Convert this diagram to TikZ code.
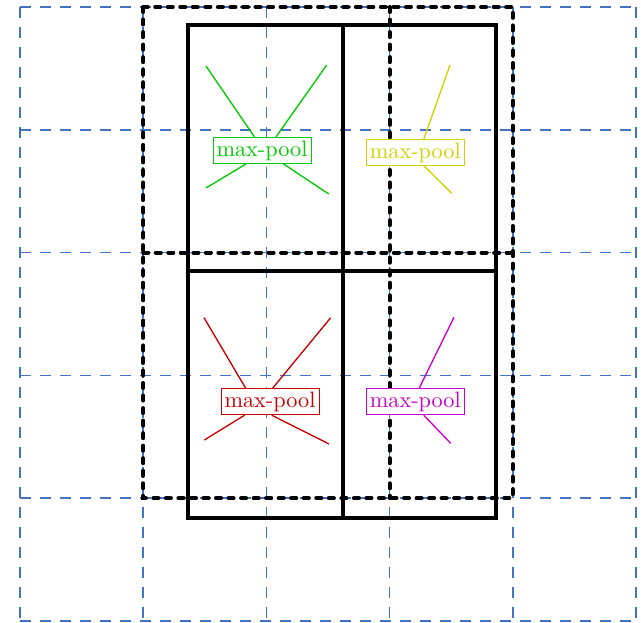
\documentclass[tikz,border=0pt]{standalone}
\tikzset{
  px/.style={x=0.75pt,y=-0.75pt},
  gridline/.style={draw={rgb,255:red,68;green,114;blue,196},line width=1.3pt,dash pattern=on 8.25pt off 6.75pt},
  winline/.style={draw=black,line width=3pt,line cap=round,dash pattern=on 3.8pt off 5.6pt},
  cellbox/.style={draw=black,line width=3pt},
  lbl/.style={draw,fill=white,line width=0.6pt,inner xsep=2.6pt,inner ysep=2.4pt,font=\fontsize{10}{12}\selectfont},
  conn/.style={line width=1pt}
}
\definecolor{colG}{RGB}{0,204,0}
\definecolor{colY}{RGB}{210,210,0}
\definecolor{colR}{RGB}{204,0,0}
\definecolor{colM}{RGB}{204,0,204}
\newcommand{\mptext}{\scalebox{1.67}{max-pool}}
\begin{document}
\begin{tikzpicture}[px]
\useasboundingbox (0,0) rectangle (641,623);
% blue grid
\foreach \x in {20,143.2,266.4,389.6,512.8,636} \draw[gridline] (\x,7) -- (\x,621);
\foreach \y in {7,129.8,252.6,375.4,498.2,621} \draw[gridline] (20,\y) -- (636,\y);
% solid cells
\draw[cellbox] (188,25) rectangle (496,518);
\draw[cellbox] (343,25) -- (343,518);
\draw[cellbox] (188,271) -- (496,271);
% dotted windows
\draw[winline] (143.2,7) rectangle (512.8,498.2);
\draw[winline] (389.6,7) -- (389.6,498.2);
\draw[winline] (143.2,252.6) -- (512.8,252.6);
% labels
\node[lbl,draw=colG,text=colG] (g) at (262,150.5) {\mptext};
\node[lbl,draw=colY,text=colY] (yl) at (415.3,152.8) {\mptext};
\node[lbl,draw=colR,text=colR] (r) at (270,401.7) {\mptext};
\node[lbl,draw=colM,text=colM] (m) at (415.3,401.7) {\mptext};
% endpoints
\coordinate (g1) at (206,66);
\coordinate (g2) at (326.7,65);
\coordinate (g3) at (206,188);
\coordinate (g4) at (328.7,194);
\coordinate (y1) at (450,65);
\coordinate (y2) at (451.7,193.3);
\coordinate (r1) at (204,317.7);
\coordinate (r2) at (330.7,317.7);
\coordinate (r3) at (204.3,440);
\coordinate (r4) at (329,444);
\coordinate (m1) at (454,317.3);
\coordinate (m2) at (450.7,443.3);
\draw[conn,colG] (g.119) -- (g1);
\draw[conn,colG] (g.44.6) -- (g2);
\draw[conn,colG] (g.220.5) -- (g3);
\draw[conn,colG] (g.-32.2) -- (g4);
\draw[conn,colY] (yl.58.2) -- (y1);
\draw[conn,colY] (yl.-56.2) -- (y2);
\draw[conn,colR] (r.151) -- (r1);
\draw[conn,colR] (r.79.4) -- (r2);
\draw[conn,colR] (r.208) -- (r3);
\draw[conn,colR] (r.-83) -- (r4);
\draw[conn,colM] (m.74.5) -- (m1);
\draw[conn,colM] (m.-58.7) -- (m2);
\end{tikzpicture}
\end{document}
